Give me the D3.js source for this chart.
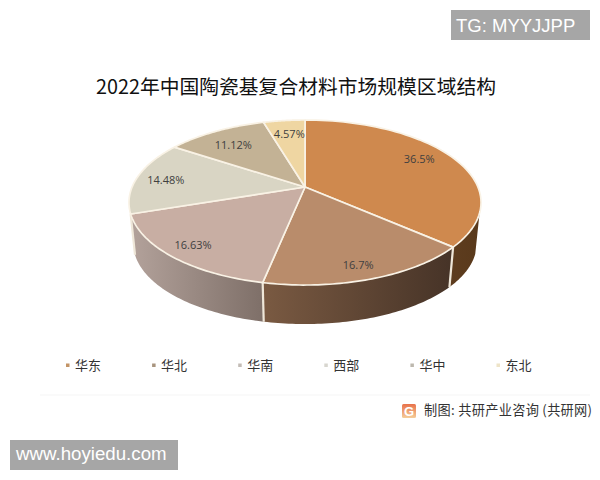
<!DOCTYPE html>
<html><head><meta charset="utf-8">
<script src="https://cdn.jsdelivr.net/npm/d3@7"></script>
<style>html,body{margin:0;padding:0;background:#fff}svg{display:block}</style>
</head><body><svg id="c" width="600" height="480"></svg>
<script>
const categories=["华东","华北","华南","西部","华中","东北"];
const shares=[36.5,16.7,16.63,14.48,11.12,4.57];
const shareLabels=["36.5%","16.7%","16.63%","14.48%","11.12%","4.57%"];
const topColors=["#cf894e","#b98c6b","#c8aea3","#d9d5c4","#c3b295","#efd6a2"];
const wallStart=["#5e3d1f","#7a5a42","#b3a29b","#000","#000","#000"];
const wallEnd=["#59391b","#463327","#7e6f68","#000","#000","#000"];
const legendColors=["#c39466","#a8947e","#c3bcb6","#d8d6cf","#bdb8ae","#eee4c8"];
const title="2022年中国陶瓷基复合材料市场规模区域结构";
const source="制图: 共研产业咨询 (共研网)";
const fontCJK="'Noto Sans CJK SC','Noto Sans',sans-serif";

const svg=d3.select("#c");
svg.append("rect").attr("width",600).attr("height",480).attr("fill","#fff");

// faint watermark
const wmPos=[[62,112],[240,60],[400,70],[10,225],[95,280],[330,125],[480,195],[100,352],[265,352],[470,300],[185,428],[370,390],[480,385],[15,400]];
svg.append("g").selectAll("text").data(wmPos).join("text")
 .attr("transform",d=>`translate(${d[0]},${d[1]}) rotate(-14)`)
 .attr("font-family",fontCJK).attr("font-size",17).attr("font-weight",700)
 .attr("fill","#000").attr("fill-opacity",0.02).text("共研产业咨询");

// perspective mapping of pie plane on to the screen
const k=0.188;
const project=(a,cx,cy,R,S)=>{
  const u=Math.sin(a),v=-Math.cos(a),w=1-k*v;
  return [cx+R*u/w,cy+S*v/w];
};
const topP=a=>project(a,305,187,172.9,79.6);
const botP=a=>project(a,305,228.5,168.6,77.6);

const pie=d3.pie().sort(null).value(d=>d)(shares);
const samples=(a0,a1)=>d3.range(0,61).map(i=>a0+(a1-a0)*i/60);
const line=d3.line();
const wallA0=108*Math.PI/180,wallA1=251.6*Math.PI/180;

const defs=svg.append("defs");
const gWall=svg.append("g");
pie.forEach((p,i)=>{
  const a0=Math.max(p.startAngle,wallA0),a1=Math.min(p.endAngle,wallA1);
  if(a1<=a0)return;
  const s=samples(a0,a1);
  const pts=s.map(topP).concat(s.slice().reverse().map(botP));
  const xs=pts.map(d=>d[0]);
  const left=d3.min(xs),right=d3.max(xs);
  const g=defs.append("linearGradient").attr("id","w"+i).attr("gradientUnits","userSpaceOnUse")
    .attr("x1",right).attr("x2",left).attr("y1",0).attr("y2",0);
  g.append("stop").attr("offset",0).attr("stop-color",wallEnd[i]);
  g.append("stop").attr("offset",1).attr("stop-color",wallStart[i]);
  gWall.append("path").attr("d",line(pts)+"Z").attr("fill",`url(#w${i})`).attr("stroke","none");
  if(p.startAngle>wallA0){
    gWall.append("path").attr("d",line([topP(p.startAngle),botP(p.startAngle)]))
      .attr("stroke","#efe7d9").attr("stroke-width",2.2).attr("fill","none");
  }
});

const gTop=svg.append("g");
gTop.selectAll("path").data(pie).join("path")
 .attr("d",p=>line([[305,187]].concat(samples(p.startAngle,p.endAngle).map(topP)))+"Z")
 .attr("fill",(p,i)=>topColors[i])
 .attr("stroke","#f9f2e5").attr("stroke-width",1.7).attr("stroke-linejoin","round");

// labels
const labelR=[0.62,0.66,0.70,0.78,0.72,0.72];
const labelOff=[[21,-8],[12,22],[-23,12],[-8,1],[-5,0],[0,-3]];
svg.append("g").selectAll("text").data(pie).join("text")
 .attr("transform",(p,i)=>{
   const a=(p.startAngle+p.endAngle)/2;
   const u=Math.sin(a)*labelR[i],v=-Math.cos(a)*labelR[i],w=1-k*v;
   return `translate(${305+172.9*u/w+labelOff[i][0]},${187+79.6*v/w+labelOff[i][1]})`;
 })
 .attr("text-anchor","middle").attr("dy","0.35em")
 .attr("font-family","'Open Sans',sans-serif").attr("font-size",11).attr("fill","#404040")
 .text((p,i)=>shareLabels[i]);

// title
svg.append("text").attr("x",296).attr("y",94).attr("text-anchor","middle")
 .attr("font-family",fontCJK).attr("font-size",19.8).attr("fill","#111").text(title);

// legend
const legendX=d3.scalePoint().domain(categories).range([67.5,498]);
const lg=svg.append("g").selectAll("g").data(categories).join("g")
 .attr("transform",d=>`translate(${legendX(d)},365)`);
lg.append("rect").attr("x",-1.5).attr("y",-1.5).attr("width",3.5).attr("height",3.5)
 .attr("fill",(d,i)=>legendColors[i]);
lg.append("text").attr("x",7.5).attr("dy","0.36em")
 .attr("font-family",fontCJK).attr("font-size",13).attr("fill","#333").text(d=>d);

// footer
svg.append("line").attr("x1",40).attr("x2",590).attr("y1",395).attr("y2",395).attr("stroke","#f5f5f5");
const grad=defs.append("linearGradient").attr("id","logo").attr("x1",0).attr("x2",0).attr("y1",0).attr("y2",1);
grad.append("stop").attr("offset",0).attr("stop-color","#e8714a");
grad.append("stop").attr("offset",1).attr("stop-color","#f5cd9a");
svg.append("rect").attr("x",402).attr("y",404).attr("width",14).attr("height",14).attr("rx",1.5).attr("fill","url(#logo)");
svg.append("text").attr("x",409).attr("y",415.5).attr("text-anchor","middle").attr("font-family","'Liberation Sans',sans-serif").attr("font-weight",700).attr("font-size",13).attr("fill","#fff").text("G");
svg.append("text").attr("x",424).attr("y",415).attr("letter-spacing",0.3)
 .attr("font-family",fontCJK).attr("font-size",13.2).attr("fill","#333").text(source);

// overlay tags
svg.append("rect").attr("x",451).attr("y",10).attr("width",139).attr("height",30).attr("fill","#a6a6a6");
svg.append("text").attr("x",456).attr("y",32).attr("font-family","'Liberation Sans',sans-serif").attr("font-size",18.5).attr("fill","#fff").text("TG: MYYJJPP");
svg.append("rect").attr("x",10).attr("y",440).attr("width",168).attr("height",30).attr("fill","#a6a6a6");
svg.append("text").attr("x",16).attr("y",460).attr("font-family","'Liberation Sans',sans-serif").attr("font-size",18.7).attr("fill","#fff").text("www.hoyiedu.com");
</script></body></html>
